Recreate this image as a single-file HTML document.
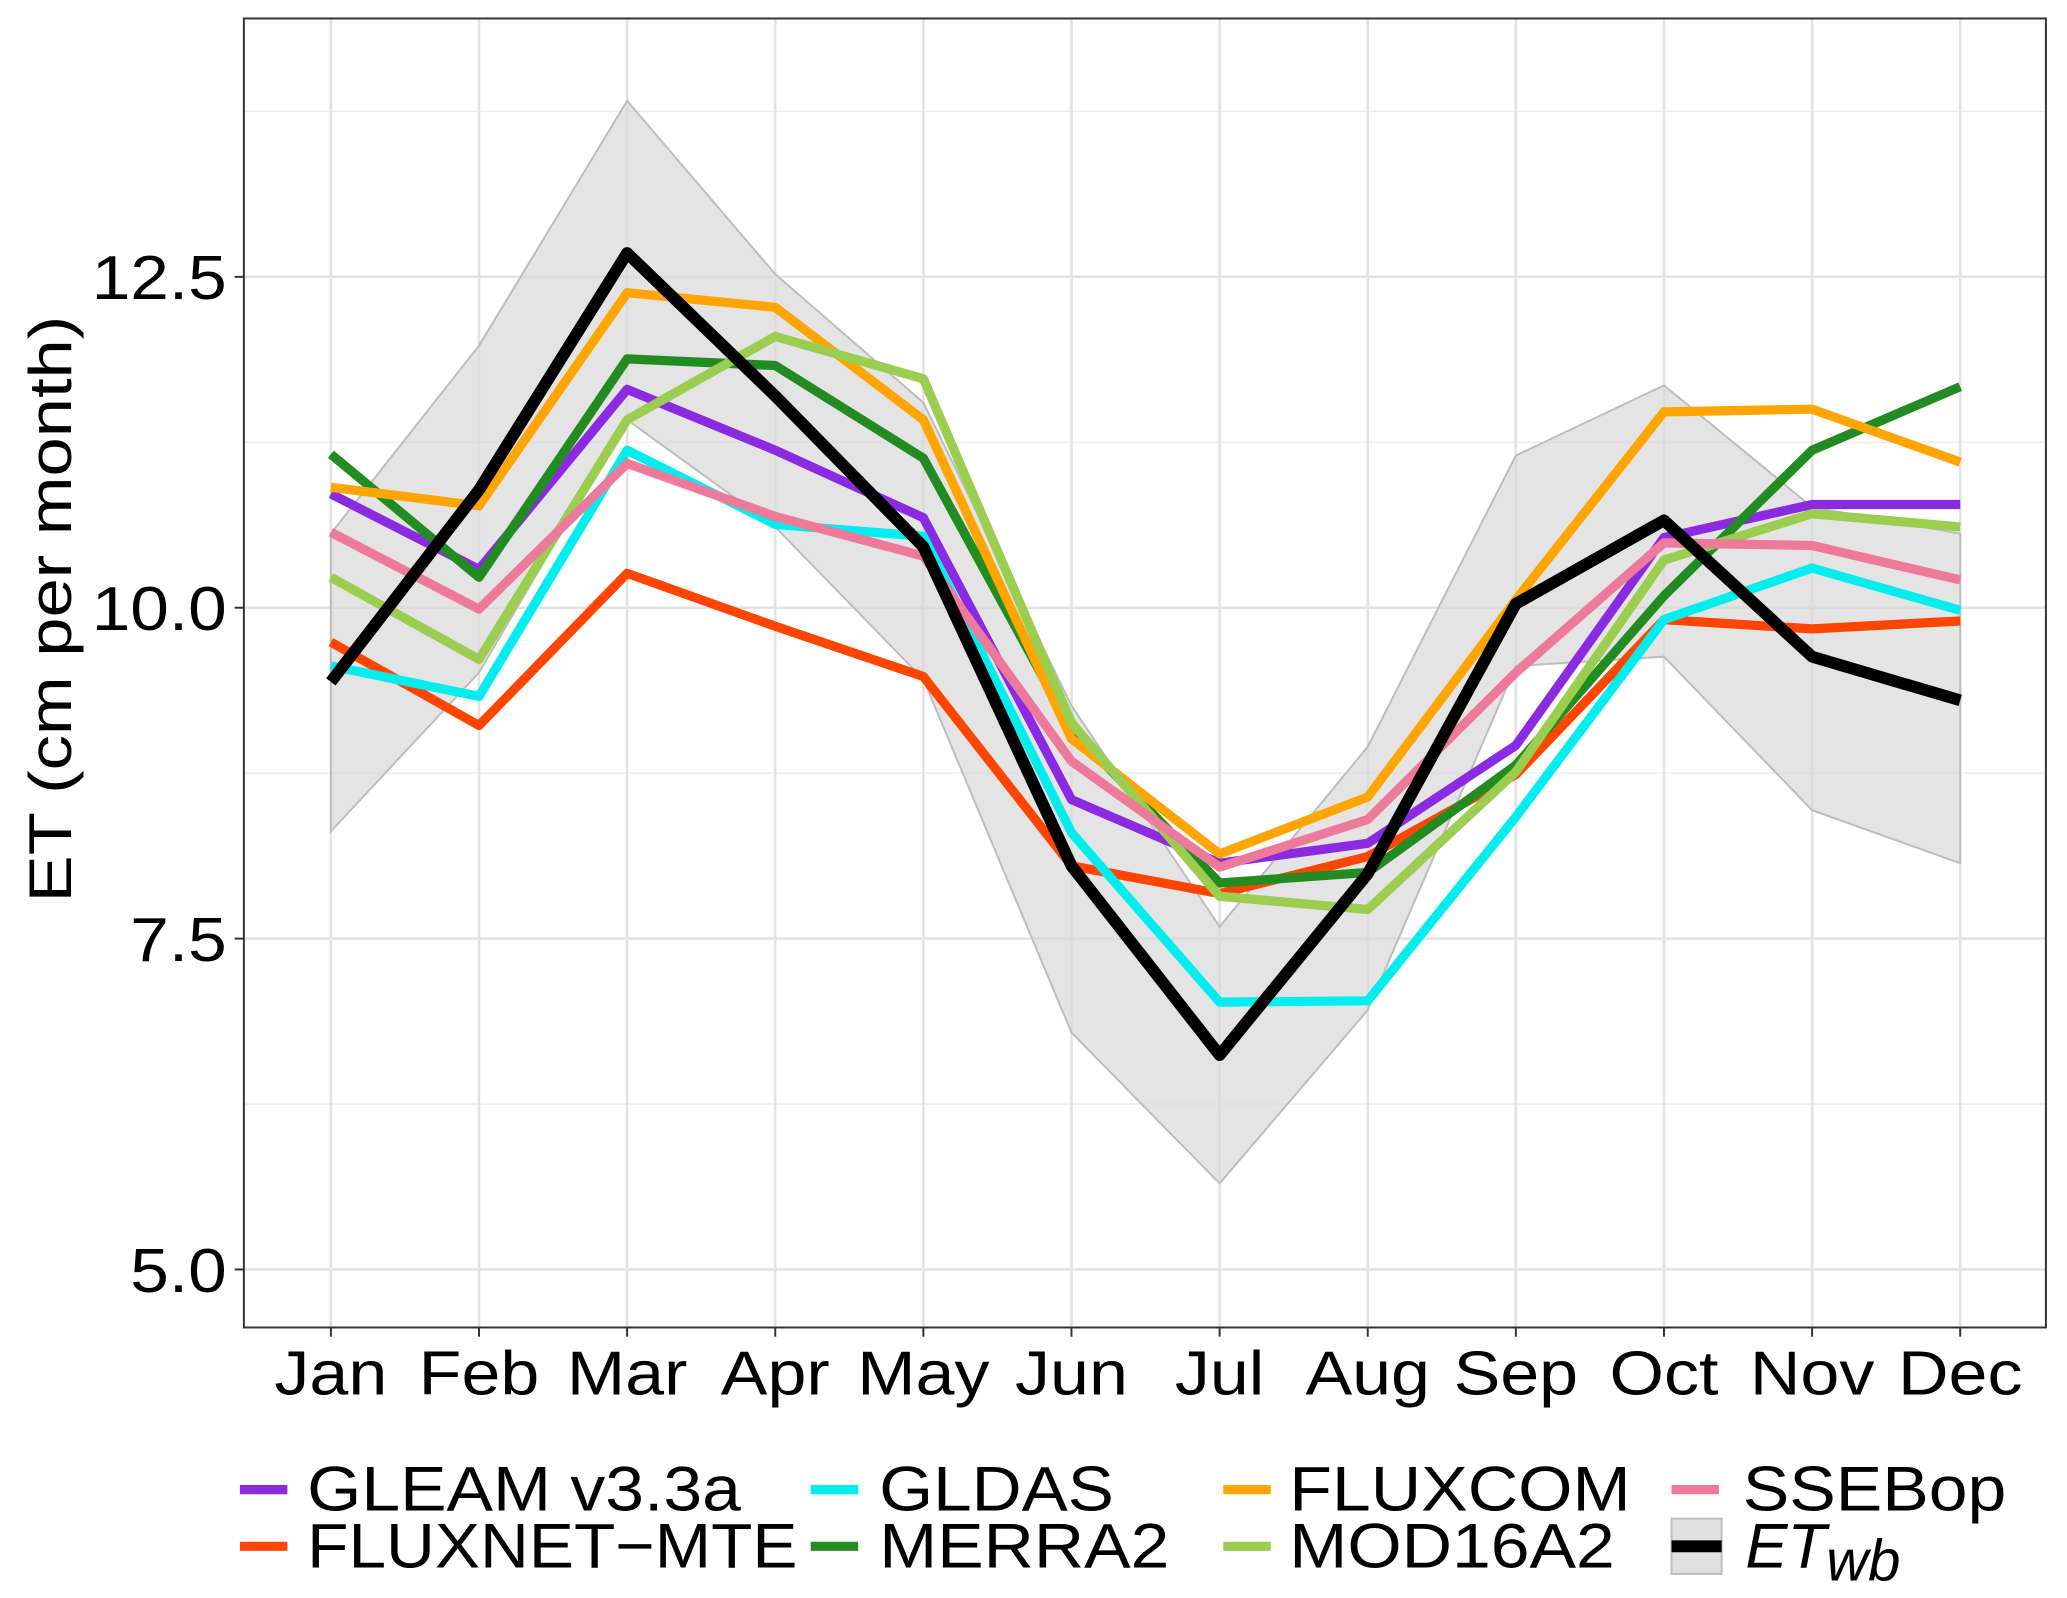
<!DOCTYPE html>
<html><head><meta charset="utf-8"><style>
html,body{margin:0;padding:0;background:#fff;}
svg{display:block;font-family:"Liberation Sans",Arial,sans-serif;}
</style></head><body>
<svg id="chart" width="2067" height="1598" viewBox="0 0 1568 1212.2" xmlns="http://www.w3.org/2000/svg">
<rect x="0" y="0" width="1568" height="1213" fill="#fff"/>
<g id="grid"></g>
<g id="band"></g>
<g id="lines"></g>
<rect x="185" y="14" width="1367" height="993" fill="none" stroke="#333" stroke-width="1.5"/>
<g id="axes"></g>
<text id="ytitle" transform="translate(54,462) rotate(-90)" text-anchor="middle" font-size="46" fill="#000" textLength="445" lengthAdjust="spacingAndGlyphs">ET (cm per month)</text>
<g id="legend"></g>
</svg>
<script>
const months=["Jan","Feb","Mar","Apr","May","Jun","Jul","Aug","Sep","Oct","Nov","Dec"];
const yTicks=[5,7.5,10,12.5];
const yTickLabels=["5.0","7.5","10.0","12.5"];
const yMinor=[6.25,8.75,11.25,13.75];
const bandUpper=[10.56,11.98,13.83,12.52,11.55,9.26,7.59,8.95,11.15,11.68,10.76,10.56];
const bandLower=[8.31,9.51,11.42,10.61,9.46,6.79,5.65,6.96,9.56,9.63,8.47,8.07];
const gleam=[10.86,10.29,11.65,11.19,10.68,8.55,8.07,8.22,8.96,10.53,10.78,10.78];
const fluxnet=[9.74,9.11,10.26,9.86,9.48,8.05,7.84,8.12,8.74,9.91,9.84,9.90];
const gldas=[9.56,9.33,11.19,10.63,10.54,8.30,7.02,7.03,8.42,9.91,10.30,9.98];
const merra2=[11.16,10.23,11.88,11.83,11.13,9.08,7.92,8.00,8.81,10.09,11.19,11.67];
const fluxcom=[10.91,10.77,12.38,12.27,11.42,9.01,8.14,8.57,10.06,11.48,11.50,11.10];
const mod16=[10.23,9.61,11.42,12.05,11.73,9.13,7.82,7.72,8.76,10.36,10.71,10.61];
const ssebop=[10.57,9.99,11.09,10.69,10.39,8.84,8.04,8.40,9.51,10.49,10.47,10.21];
const etwb=[9.44,10.89,12.68,11.60,10.46,8.05,6.62,7.99,10.03,10.66,9.63,9.30];

const NS="http://www.w3.org/2000/svg";
function X(i){return 251+i*(1487-251)/11;}
function Y(v){return 461-(v-10)*100.4;}
function mk(tag,attrs,parent){const e=document.createElementNS(NS,tag);for(const k in attrs)e.setAttribute(k,attrs[k]);parent.appendChild(e);return e;}
function widen(t,f){const w=t.getComputedTextLength();t.setAttribute('textLength',w*f);t.setAttribute('lengthAdjust','spacingAndGlyphs');}
const grid=document.getElementById('grid'),band=document.getElementById('band'),lines=document.getElementById('lines'),axes=document.getElementById('axes'),legend=document.getElementById('legend');

yMinor.forEach(v=>{const l=mk('line',{x1:185,x2:1552,y1:Y(v),y2:Y(v),stroke:'#ececec','stroke-width':1},grid);

});
yTicks.forEach((v,i)=>{const l=mk('line',{x1:185,x2:1552,y1:Y(v),y2:Y(v),stroke:'#e3e3e3','stroke-width':2},grid);


const t=mk('line',{x1:178,x2:185,y1:Y(v),y2:Y(v),stroke:'#333','stroke-width':1.5},axes);


const tx=mk('text',{x:172,y:Y(v)+17,'text-anchor':'end','font-size':47,fill:'#000'},axes);tx.textContent=yTickLabels[i];


widen(tx,1.12);});
months.forEach((m,i)=>{const l=mk('line',{x1:X(i),x2:X(i),y1:14,y2:1007,stroke:'#e3e3e3','stroke-width':2},grid);


const t=mk('line',{x1:X(i),x2:X(i),y1:1007,y2:1014,stroke:'#333','stroke-width':1.5},axes);


const tx=mk('text',{x:X(i),y:1058,'text-anchor':'middle','font-size':47,fill:'#000'},axes);tx.textContent=m;


widen(tx,1.13);});

let pts=bandUpper.map((v,i)=>X(i)+','+Y(v)).concat(bandLower.map((v,i)=>[X(i),Y(v)]).reverse().map(p=>p[0]+','+p[1]));
const bp=mk('polygon',{points:pts.join(' '),fill:'#d9d9d9','fill-opacity':0.7,stroke:'#bdbdbd','stroke-width':1.5},band);



const series=[
 {name:'gleam-line',d:gleam,c:'#8a2be2',w:7},
 {name:'fluxnet-mte-line',d:fluxnet,c:'#ff4500',w:7},
 {name:'gldas-line',d:gldas,c:'#00eeee',w:7},
 {name:'merra2-line',d:merra2,c:'#228b22',w:7},
 {name:'fluxcom-line',d:fluxcom,c:'#ffa500',w:7},
 {name:'mod16a2-line',d:mod16,c:'#9acd50',w:7},
 {name:'ssebop-line',d:ssebop,c:'#ee7a9b',w:7},
 {name:'etwb-line',d:etwb,c:'#000',w:9}];
series.forEach(s=>{const p=mk('polyline',{points:s.d.map((v,i)=>X(i)+','+Y(v)).join(' '),fill:'none',stroke:s.c,'stroke-width':s.w,'stroke-linejoin':'round'},lines);

});

const leg=[
 ['GLEAM v3.3a','#8a2be2',182,233,1130,329],['FLUXNET\u2212MTE','#ff4500',182,233,1173,372],
 ['GLDAS','#00eeee',615,667,1130,178],['MERRA2','#228b22',615,667,1173,220],
 ['FLUXCOM','#ffa500',928,978,1130,259],['MOD16A2','#9acd50',928,978,1173,247],
 ['SSEBop','#ee7a9b',1268,1322,1130,200]];
leg.forEach(l=>{const g=mk('g',{},legend);


mk('line',{x1:l[2],x2:l[2]+36,y1:l[4],y2:l[4],stroke:l[1],'stroke-width':7},g);
const t=mk('text',{x:l[3],y:l[4]+16,'font-size':48,fill:'#000',textLength:l[5],lengthAdjust:'spacingAndGlyphs'},g);t.textContent=l[0];});
const g=mk('g',{},legend);


mk('rect',{x:1268,y:1152,width:38,height:42,fill:'#e0e0e0',stroke:'#bdbdbd','stroke-width':1.5},g);
mk('line',{x1:1268,x2:1306,y1:1173,y2:1173,stroke:'#000','stroke-width':9},g);
const t=mk('text',{x:1324,y:1189,'font-size':48,'font-style':'italic',fill:'#000'},g);
t.innerHTML='ET<tspan dy="10" font-size="44">wb</tspan>';
</script>
</body></html>
